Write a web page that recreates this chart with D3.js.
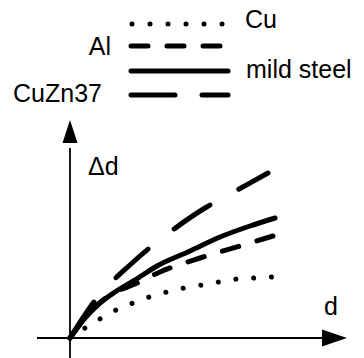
<!DOCTYPE html>
<html>
<head>
<meta charset="utf-8">
<script src="https://cdn.jsdelivr.net/npm/d3@7"></script>
<style>
  html, body { margin: 0; padding: 0; background: #fff; }
  svg text { font-family: "Liberation Sans", Arial, Helvetica, sans-serif; fill: #000; }
</style>
</head>
<body>
<svg id="chart" width="364" height="358"></svg>
<script>
// Deformation Δd versus d for four materials (qualitative curves)
const materials = ["Cu", "Al", "mild steel", "CuZn37"];

const cuX = [0, 0.75, 1.5, 2.3, 3.15, 3.95, 4.85, 5.7, 6.6, 7.45, 8.35, 9.25, 10.1];
const cuY = [0, 0.5, 0.95, 1.4, 1.75, 2.05, 2.3, 2.5, 2.65, 2.8, 2.95, 3.0, 3.05];

const alX = [0, 1, 2, 3.25, 4.5, 6.5, 8.5, 10.15];
const alY = [0, 1.3, 2.15, 2.7, 3.3, 4.0, 4.6, 5.1];

const steelX = [0, 0.75, 1.5, 2.25, 3.25, 4.35, 6, 7.5, 9, 10.25];
const steelY = [0, 1.0, 1.75, 2.3, 2.9, 3.6, 4.35, 5.05, 5.6, 6.0];

const brassX = [0, 1.35, 3.05, 5, 6.75, 8.1, 9.9];
const brassY = [0, 2.0, 3.7, 5.3, 6.5, 7.25, 8.25];

const axisLabels = ["d", "Δd"];

const seriesX = [cuX, alX, steelX, brassX];
const seriesY = [cuY, alY, steelY, brassY];
const dashes = ["0.01 17.8", "17 19", null, "43 33"];

const svg = d3.select("#chart");
const fontSize = 25;

const x = d3.scaleLinear().domain([0, 14]).range([70, 350]);
const y = d3.scaleLinear().domain([0, 11]).range([338, 118]);

// axes with arrowheads
const ax = svg.append("g");
ax.append("line")
  .attr("x1", x(-1.65)).attr("x2", x(12.8))
  .attr("y1", y(0)).attr("y2", y(0))
  .attr("stroke", "#000").attr("stroke-width", 1.8);
ax.append("line")
  .attr("x1", x(0)).attr("x2", x(0))
  .attr("y1", y(-1.0)).attr("y2", y(9.5))
  .attr("stroke", "#000").attr("stroke-width", 1.8);
ax.append("path")
  .attr("d", `M${x(13.85)},${y(0)} L${x(12.6)},${y(0) - 8.5} L${x(12.6)},${y(0) + 8.5} Z`)
  .attr("fill", "#000");
ax.append("path")
  .attr("d", `M${x(0)},${y(10.9)} L${x(0) - 7.5},${y(9.75)} L${x(0) + 7.5},${y(9.75)} Z`)
  .attr("fill", "#000");

ax.append("text").attr("x", 324).attr("y", 315).attr("font-size", fontSize).text(axisLabels[0]);
ax.append("text").attr("x", 88).attr("y", 175).attr("font-size", fontSize).text(axisLabels[1]);

// curves
const line = d3.line().curve(d3.curveMonotoneX);
materials.forEach((m, i) => {
  const pts = seriesX[i].map((v, j) => [x(v), y(seriesY[i][j])]);
  const p = svg.append("path")
    .attr("d", line(pts))
    .attr("fill", "none")
    .attr("stroke", "#000")
    .attr("stroke-width", 5)
    .attr("stroke-linecap", "round")
    .attr("stroke-linejoin", "round");
  if (dashes[i]) p.attr("stroke-dasharray", dashes[i]);
});

// legend
const legendRows = [24, 46, 71, 95];
const lg = svg.append("g");
materials.forEach((m, i) => {
  const l = lg.append("line")
    .attr("x1", i === 0 ? 132 : 131).attr("x2", i === 0 ? 226 : 228)
    .attr("y1", legendRows[i]).attr("y2", legendRows[i])
    .attr("stroke", "#000").attr("stroke-width", 5)
    .attr("stroke-linecap", "round");
  if (i === 0) l.attr("stroke-dasharray", "0.01 18");
  if (i === 1) l.attr("stroke-dasharray", "17 19");
  if (i === 3) l.attr("stroke-dasharray", "44 27");
});
lg.append("text").attr("x", 245).attr("y", 28).attr("font-size", fontSize).text(materials[0]);
lg.append("text").attr("x", 111).attr("y", 55).attr("font-size", fontSize).attr("text-anchor", "end").text(materials[1]);
lg.append("text").attr("x", 246).attr("y", 78).attr("font-size", fontSize).text(materials[2]);
lg.append("text").attr("x", 102).attr("y", 102).attr("font-size", fontSize).attr("text-anchor", "end").text(materials[3]);
</script>
</body>
</html>
